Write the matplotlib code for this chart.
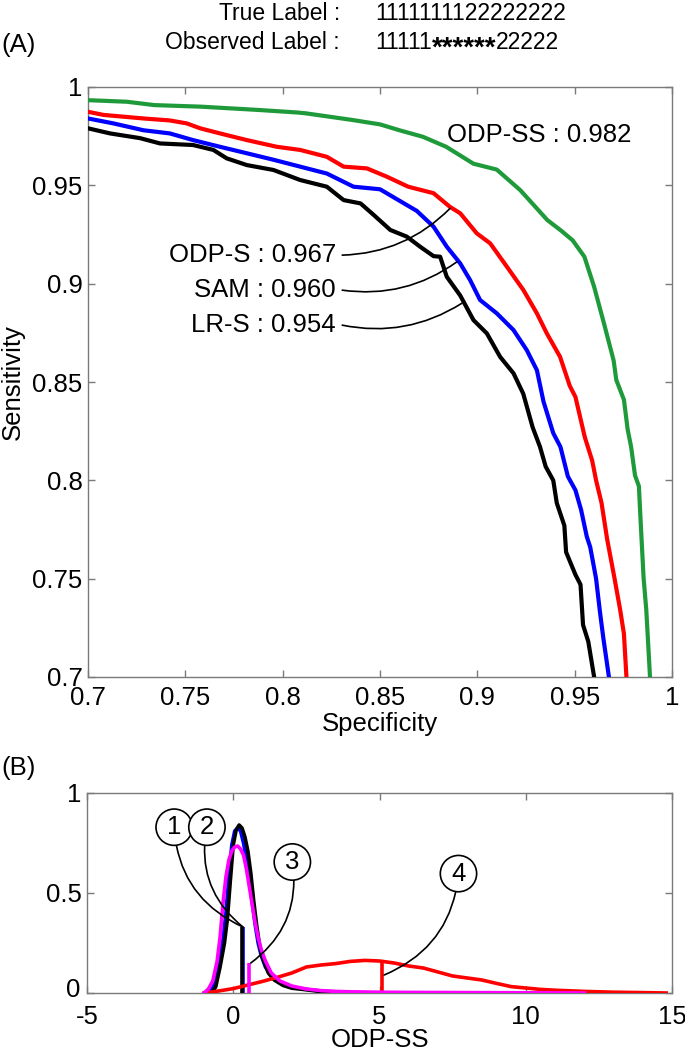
import matplotlib
matplotlib.use("Agg")
import matplotlib.pyplot as plt

plt.rcParams['font.family'] = ['Liberation Sans', 'DejaVu Sans']
plt.rcParams['axes.unicode_minus'] = False

# ---------------- Panel A data (Specificity vs Sensitivity) ----------------
odpss_spec = [0.700, 0.720, 0.734, 0.758, 0.788, 0.808, 0.812, 0.836, 0.850, 0.860, 0.872, 0.884,
              0.898, 0.910, 0.922, 0.936, 0.943, 0.949, 0.955, 0.960, 0.965, 0.970, 0.9714, 0.9753,
              0.9772, 0.979, 0.981, 0.983, 0.984, 0.9854, 0.9868, 0.9887]
odpss_sens = [0.9933, 0.9925, 0.9908, 0.990, 0.9883, 0.987, 0.9866, 0.9832, 0.981, 0.978, 0.9747, 0.9696,
              0.961, 0.958, 0.9476, 0.9323, 0.927, 0.922, 0.9137, 0.8984, 0.880, 0.861, 0.851, 0.841,
              0.826, 0.817, 0.8025, 0.797, 0.777, 0.7505, 0.734, 0.700]

odps_spec = [0.700, 0.708, 0.7285, 0.742, 0.7507, 0.7576, 0.7678, 0.7816, 0.797, 0.809, 0.8227, 0.8313,
             0.8433, 0.8535, 0.8645, 0.8775, 0.886, 0.8912, 0.8997, 0.9066, 0.9152, 0.9237, 0.9306,
             0.9357, 0.9425, 0.9475, 0.9504, 0.9552, 0.959, 0.961, 0.9638, 0.9667, 0.9705, 0.9734,
             0.9753, 0.9766]
odps_sens = [0.9874, 0.9858, 0.984, 0.983, 0.9815, 0.979, 0.9764, 0.973, 0.9696, 0.968, 0.9645, 0.9595,
             0.9586, 0.9544, 0.9493, 0.946, 0.939, 0.9358, 0.9256, 0.9205, 0.9086, 0.8967, 0.8849,
             0.8747, 0.8628, 0.848, 0.8424, 0.822, 0.810, 0.800, 0.7885, 0.770, 0.750, 0.734,
             0.722, 0.700]

sam_spec = [0.700, 0.713, 0.7285, 0.742, 0.754, 0.7678, 0.7816, 0.7953, 0.809, 0.8227, 0.8364, 0.850,
            0.8603, 0.8689, 0.8775, 0.8843, 0.8912, 0.8963, 0.9014, 0.910, 0.9186, 0.9254, 0.9306,
            0.934, 0.939, 0.9427, 0.9465, 0.9504, 0.9533, 0.9562, 0.958, 0.961, 0.963, 0.9647, 0.9676]
sam_sens = [0.984, 0.9815, 0.978, 0.9764, 0.973, 0.9696, 0.9663, 0.963, 0.9595, 0.956, 0.9493, 0.948,
            0.942, 0.937, 0.929, 0.9188, 0.9103, 0.9018, 0.8917, 0.8849, 0.8764, 0.8662, 0.856,
            0.840, 0.824, 0.817, 0.802, 0.795, 0.785, 0.7715, 0.766, 0.750, 0.733, 0.720, 0.700]

lrs_spec = [0.700, 0.7113, 0.7267, 0.737, 0.754, 0.7644, 0.7713, 0.7816, 0.7953, 0.809, 0.8227, 0.8313,
            0.840, 0.8467, 0.8553, 0.8638, 0.8706, 0.8775, 0.8809, 0.8843, 0.8912, 0.898, 0.9049,
            0.9117, 0.9186, 0.9236, 0.9284, 0.9322, 0.9351, 0.939, 0.9408, 0.9447, 0.9456, 0.9504,
            0.953, 0.9543, 0.957, 0.960]
lrs_sens = [0.979, 0.9764, 0.974, 0.9713, 0.9705, 0.968, 0.9637, 0.9603, 0.9578, 0.9527, 0.9493, 0.9425,
            0.9408, 0.935, 0.9273, 0.9239, 0.9188, 0.914, 0.9137, 0.9035, 0.894, 0.8815, 0.8747,
            0.8628, 0.8544, 0.844, 0.827, 0.817, 0.807, 0.800, 0.7885, 0.777, 0.7635, 0.752,
            0.747, 0.7265, 0.718, 0.700]

auc_labels = ["ODP-SS : 0.982", "ODP-S : 0.967", "SAM : 0.960", "LR-S : 0.954"]
xticksA = [0.7, 0.75, 0.8, 0.85, 0.9, 0.95, 1.0]
xtickA_labels = ["0.7", "0.75", "0.8", "0.85", "0.9", "0.95", "1"]
yticksA = [0.7, 0.75, 0.8, 0.85, 0.9, 0.95, 1.0]
ytickA_labels = ["0.7", "0.75", "0.8", "0.85", "0.9", "0.95", "1"]

# ---------------- Panel B data (densities of ODP-SS) ----------------
d1_x = [-0.75, -0.6, -0.45, -0.3, -0.2, -0.1, 0.0, 0.1, 0.2, 0.3, 0.4, 0.5, 0.6, 0.7, 0.8, 0.9,
        1.0, 1.2, 1.4, 1.7, 2.0, 2.5, 3.0, 3.5, 4.0, 5.0]
d1_y = [0.0, 0.03, 0.13, 0.25, 0.37, 0.56, 0.74, 0.815, 0.84, 0.825, 0.78, 0.71, 0.60, 0.46, 0.34, 0.24,
        0.175, 0.10, 0.065, 0.038, 0.024, 0.016, 0.007, 0.003, 0.001, 0.0]
d2_x = [-0.8, -0.65, -0.5, -0.35, -0.25, -0.15, -0.05, 0.05, 0.15, 0.25, 0.35, 0.45, 0.55, 0.65,
        0.75, 0.85, 0.95, 1.1, 1.3, 1.6, 2.0, 2.5, 3.0, 3.5, 4.0, 5.0]
d2_y = [0.0, 0.04, 0.14, 0.27, 0.40, 0.58, 0.74, 0.81, 0.825, 0.81, 0.75, 0.67, 0.57, 0.45,
        0.34, 0.25, 0.19, 0.13, 0.085, 0.05, 0.03, 0.018, 0.01, 0.005, 0.002, 0.0]
d3_x = [-1.0, -0.85, -0.7, -0.55, -0.45, -0.35, -0.25, -0.15, -0.05, 0.05, 0.15, 0.25, 0.35, 0.45,
        0.55, 0.65, 0.75, 0.85, 0.95, 1.1, 1.3, 1.6, 2.0, 2.5, 3.0, 3.5, 4.0, 5.0, 6.0, 8.0, 10.0, 12.0]
d3_y = [0.0, 0.02, 0.06, 0.16, 0.28, 0.45, 0.58, 0.665, 0.71, 0.73, 0.735, 0.72, 0.69, 0.62,
        0.53, 0.44, 0.35, 0.28, 0.22, 0.16, 0.10, 0.06, 0.035, 0.02, 0.012, 0.008, 0.006, 0.004,
        0.003, 0.002, 0.001, 0.0]
d4_x = [-1.0, -0.5, 0.0, 0.5, 1.0, 1.5, 2.0, 2.5, 3.0, 3.5, 4.0, 4.5, 5.0, 5.5, 6.0, 6.5, 7.0,
        7.5, 8.0, 8.5, 9.0, 9.5, 10.0, 10.5, 11.0, 12.0, 13.0, 14.0, 14.8]
d4_y = [0.0, 0.01, 0.022, 0.04, 0.058, 0.078, 0.10, 0.13, 0.14, 0.147, 0.158, 0.163, 0.16, 0.15,
        0.135, 0.125, 0.105, 0.085, 0.075, 0.065, 0.048, 0.032, 0.025, 0.018, 0.014, 0.008, 0.004,
        0.002, 0.0]
# marker lines (x position, height) for each density
mark_x = [0.30, 0.33, 0.55, 5.1]
mark_h = [0.33, 0.33, 0.15, 0.155]
xticksB = [-5, 0, 5, 10, 15]
yticksB = [0, 0.5, 1]
ytickB_labels = ["0", "0.5", "1"]

# header strings
true_head = "True Label :"
obs_head = "Observed Label :"
true_seq = "1111111122222222"
obs_seq = ["11111", "******", "22222"]

W, H = 685, 1051
fig = plt.figure(figsize=(W / 100, H / 100), dpi=100)

gray = '#7a7a7a'
fs = 18.5

def style(ax, xpad):
    for s in ax.spines.values():
        s.set_color(gray)
        s.set_linewidth(1.0)
    ax.tick_params(direction='in', top=True, right=True, length=5, width=1,
                   color=gray, labelsize=fs, labelcolor='black')
    ax.tick_params(axis='x', pad=xpad)
    ax.tick_params(axis='y', pad=4)

# ---------------- Panel A ----------------
axA = fig.add_axes([88 / W, 1 - 677 / H, (672 - 88) / W, (677 - 87) / H])
style(axA, 6.5)
lw = 3.0
axA.plot(lrs_spec, lrs_sens, color='black', lw=lw, zorder=3)
axA.plot(sam_spec, sam_sens, color='#0000ff', lw=lw, zorder=3)
axA.plot(odps_spec, odps_sens, color='#ff0000', lw=lw, zorder=3)
axA.plot(odpss_spec, odpss_sens, color='#1f9a3a', lw=lw, zorder=3)
axA.set_xlim(0.7, 1.0)
axA.set_ylim(0.7, 1.0)
axA.set_xticks(xticksA)
axA.set_xticklabels(xtickA_labels)
axA.set_yticks(yticksA)
axA.set_yticklabels(ytickA_labels)
axA.set_xlabel('Specificity', fontsize=fs)
axA.xaxis.set_label_coords(0.5, -0.0797)
axA.xaxis.label.set_va('center')
axA.set_ylabel('Sensitivity', fontsize=fs)
axA.yaxis.set_label_coords(-0.128, 0.5)
axA.yaxis.label.set_va('center')

axA.text(0.8843, 0.9756, auc_labels[0], fontsize=fs, ha='left', va='center')
ann_text_y = [0.9145, 0.8967, 0.8789]
ann_targets = [(0.886, 0.9383), (0.8895, 0.9111), (0.892, 0.890)]
for lab, ty, tgt in zip(auc_labels[1:], ann_text_y, ann_targets):
    axA.text(0.8274, ty, lab, fontsize=fs, ha='right', va='center')
    axA.annotate('', xy=tgt, xytext=(0.8306, ty),
                 arrowprops=dict(arrowstyle='-', color='black', lw=1.2,
                                 connectionstyle='arc3,rad=0.2', shrinkA=0, shrinkB=0),
                 zorder=4)

# ---------------- Panel B ----------------
axB = fig.add_axes([87 / W, 1 - 993 / H, (672 - 87) / W, (993 - 793) / H])
style(axB, 8.4)
lwb = 2.6
axB.plot(d2_x, d2_y, color='#0000ff', lw=lwb, zorder=2)
axB.plot(d1_x, d1_y, color='black', lw=lwb, zorder=3)
axB.plot(d4_x, d4_y, color='#ff0000', lw=lwb, zorder=4)
axB.plot(d3_x, d3_y, color='#ff00ff', lw=lwb, zorder=5)
axB.vlines(mark_x[1], 0, mark_h[1], color='#0000ff', lw=lwb, zorder=2)
axB.vlines(mark_x[0], 0, mark_h[0], color='black', lw=lwb, zorder=3)
axB.vlines(mark_x[2], 0, mark_h[2], color='#ff00ff', lw=lwb, zorder=5)
axB.vlines(mark_x[3], 0, mark_h[3], color='#ff0000', lw=lwb, zorder=4)
axB.set_xlim(-5, 15)
axB.set_ylim(0, 1)
axB.set_xticks(xticksB)
axB.set_yticks(yticksB)
# the "0" label is placed by hand, nudged up a little so it clears the "-5" below it
axB.set_yticklabels([""] + ytickB_labels[1:])
axB.text(-6.6 / 585, 3.0 / 200, ytickB_labels[0], transform=axB.transAxes,
         fontsize=fs, ha='right', va='center')
axB.set_xlabel('ODP-SS', fontsize=fs)
axB.xaxis.set_label_coords(0.5, -0.235)
axB.xaxis.label.set_va('center')

circ_lab = ['1', '2', '3', '4']
circ_pos = [(-2.02, 0.829), (-0.90, 0.829), (2.02, 0.655), (7.70, 0.597)]
circ_tgt = [(0.33, 0.33), (0.33, 0.33), (0.60, 0.15), (5.16, 0.09)]
circ_rad = [0.3, 0.3, -0.3, -0.3]
for lab, pos, tgt, rad in zip(circ_lab, circ_pos, circ_tgt, circ_rad):
    axB.annotate(lab, xy=tgt, xytext=pos, fontsize=fs, ha='center', va='center',
                 bbox=dict(boxstyle='circle,pad=0.24', fc='white', ec='black', lw=1.2),
                 arrowprops=dict(arrowstyle='-', color='black', lw=1.2,
                                 connectionstyle='arc3,rad=%g' % rad, shrinkA=0, shrinkB=0),
                 zorder=6)

# ---------------- Header texts ----------------
hfs = 16.5
fig.text(340 / W, 1 - 20 / H, true_head, fontsize=hfs, ha='right', va='baseline')
fig.text(340 / W, 1 - 49 / H, obs_head, fontsize=hfs, ha='right', va='baseline')
fig.text(375 / W, 1 - 20 / H, true_seq, fontsize=hfs, ha='left', va='baseline')

renderer = fig.canvas.get_renderer()
t1 = fig.text(375 / W, 1 - 49 / H, obs_seq[0], fontsize=hfs, ha='left', va='baseline')
x1 = t1.get_window_extent(renderer).x1
t2 = fig.text(x1 / W, 1 - 56 / H, obs_seq[1], fontsize=20, fontweight='bold',
              ha='left', va='baseline')
x2 = t2.get_window_extent(renderer).x1
fig.text(x2 / W, 1 - 49 / H, obs_seq[2], fontsize=hfs, ha='left', va='baseline')

fig.text(1 / W, 1 - 45 / H, '(A)', fontsize=fs, ha='left', va='center')
fig.text(1 / W, 1 - 768 / H, '(B)', fontsize=fs, ha='left', va='center')

fig.savefig('out.png', dpi=100)
